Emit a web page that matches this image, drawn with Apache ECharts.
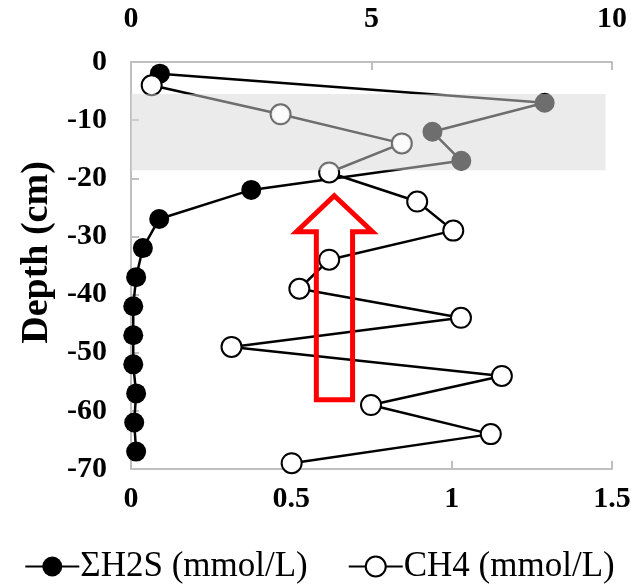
<!DOCTYPE html>
<html>
<head>
<meta charset="utf-8">
<script src="https://cdn.jsdelivr.net/npm/echarts@6/dist/echarts.min.js"></script>
<style>
  html, body { margin: 0; padding: 0; background: #fff; }
  #chart { width: 639px; height: 586px; }
</style>
</head>
<body>
<div id="chart"></div>
<script>
// Porewater profiles: sulfide on the lower axis, methane on the upper axis
const h2sDepths = [-2, -7, -12, -17, -22, -27, -32, -37, -42, -47, -52, -57, -62, -67];
const h2sValues = [0.09, 1.29, 0.94, 1.03, 0.375, 0.088, 0.037, 0.016, 0.007, 0.007, 0.007, 0.016, 0.01, 0.016];

const ch4Depths = [-4, -9, -14, -19, -24, -29, -34, -39, -44, -49, -54, -59, -64, -69];
const ch4Values = [0.43, 3.11, 5.63, 4.12, 5.95, 6.70, 4.12, 3.50, 6.86, 2.09, 7.71, 4.99, 7.48, 3.34];

const seriesNames = ['ΣH2S (mmol/L)', 'CH4 (mmol/L)'];

// Sulfate–methane transition band (depth range, right edge on lower axis)
const bandDepths = [-5.5, -18.6];
const bandXRange = [0, 1.48];

// Upward arrow outline, in lower-axis units and depth
const arrowX = [0.634, 0.753, 0.691, 0.691, 0.578, 0.578, 0.516];
const arrowY = [-23.0, -29.2, -29.2, -58.1, -58.1, -29.2, -29.2];

const FONT = '"Liberation Serif", "Times New Roman", serif';
const AXIS_GREY = '#bfbfbf';

const zip = (xs, ys) => xs.map((x, i) => [x, ys[i]]);

const axisCommon = {
  type: 'value',
  axisLine: { show: true, onZero: false, lineStyle: { color: AXIS_GREY, width: 2 } },
  axisTick: { show: true, inside: true, length: 8, lineStyle: { color: AXIS_GREY, width: 2 } },
  splitLine: { show: false },
  axisLabel: { color: '#000', fontFamily: FONT, fontWeight: 'bold', fontSize: 30 }
};

const chart = echarts.init(document.getElementById('chart'), null, { renderer: 'canvas' });

chart.setOption({
  animation: false,
  backgroundColor: '#fff',
  grid: { left: 131, right: 27, top: 62, bottom: 117, containLabel: false },
  legend: {
    data: seriesNames,
    top: 544,
    left: 'center',
    itemWidth: 54,
    itemHeight: 25,
    itemGap: 40,
    textStyle: { color: '#000', fontFamily: FONT, fontSize: 35, padding: [0, 0, 0, -4] }
  },
  xAxis: [
    Object.assign({}, axisCommon, {
      position: 'bottom', min: 0, max: 1.5, interval: 0.5,
      axisLabel: Object.assign({}, axisCommon.axisLabel, { margin: 15 })
    }),
    Object.assign({}, axisCommon, {
      position: 'top', min: 0, max: 10, interval: 5,
      axisLabel: Object.assign({}, axisCommon.axisLabel, { margin: 28 })
    })
  ],
  yAxis: Object.assign({}, axisCommon, {
    min: -70, max: 0, interval: 10,
    axisLabel: Object.assign({}, axisCommon.axisLabel, { margin: 24 }),
    name: 'Depth (cm)',
    nameLocation: 'middle',
    nameRotate: 90,
    nameGap: 73,
    nameTextStyle: {
      color: '#000', fontFamily: FONT, fontWeight: 'bold', fontSize: 38,
      padding: [0, 0, 0, 26]
    }
  }),
  series: [
    {
      name: seriesNames[0],
      type: 'line',
      xAxisIndex: 0,
      data: zip(h2sValues, h2sDepths),
      symbol: 'circle',
      symbolSize: 20,
      itemStyle: { color: '#000' },
      lineStyle: { color: '#000', width: 2.5 },
      z: 2
    },
    {
      name: seriesNames[1],
      type: 'line',
      xAxisIndex: 1,
      data: zip(ch4Values, ch4Depths),
      symbol: 'circle',
      symbolSize: 20,
      itemStyle: { color: '#fff', borderColor: '#000', borderWidth: 2 },
      lineStyle: { color: '#000', width: 2.5 },
      z: 3
    },
    {
      // translucent grey band laid over the profiles
      type: 'custom',
      xAxisIndex: 0,
      silent: true,
      z: 5,
      data: [[bandXRange[0], bandDepths[0], bandXRange[1], bandDepths[1]]],
      renderItem: function (params, api) {
        const p0 = api.coord([api.value(0), api.value(1)]);
        const p1 = api.coord([api.value(2), api.value(3)]);
        return {
          type: 'rect',
          shape: { x: p0[0], y: p0[1], width: p1[0] - p0[0], height: p1[1] - p0[1] },
          style: { fill: 'rgba(216,216,216,0.51)' }
        };
      }
    },
    {
      // open-circle interiors stay white above the band
      type: 'scatter',
      xAxisIndex: 1,
      silent: true,
      z: 6,
      data: zip(ch4Values, ch4Depths),
      symbol: 'circle',
      symbolSize: 16,
      itemStyle: { color: '#fff' }
    },
    {
      // red outlined upward arrow
      type: 'custom',
      xAxisIndex: 0,
      silent: true,
      z: 7,
      data: [0],
      renderItem: function (params, api) {
        const pts = arrowX.map((x, i) => api.coord([x, arrowY[i]]));
        return {
          type: 'polygon',
          shape: { points: pts },
          style: { fill: 'none', stroke: '#ff0000', lineWidth: 5, lineJoin: 'miter' }
        };
      }
    }
  ]
});
</script>
</body>
</html>
